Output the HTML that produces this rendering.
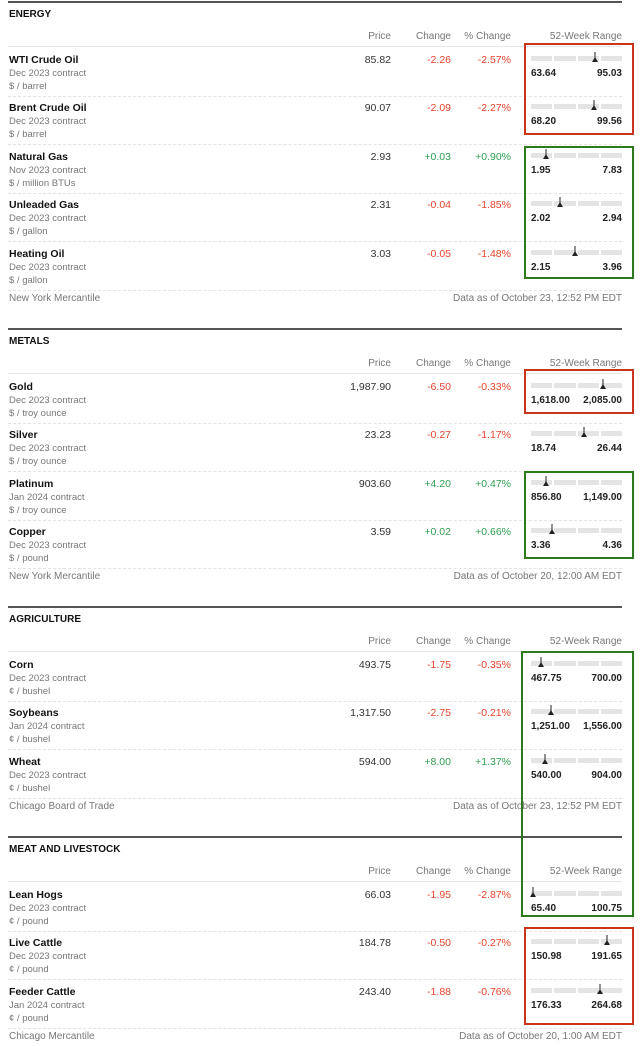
<!DOCTYPE html>
<html><head><meta charset="utf-8"><style>
body{margin:0;background:#fff;width:640px;height:1046px;position:relative;overflow:hidden;font-family:"Liberation Sans",sans-serif;}
.a{position:absolute;white-space:nowrap;line-height:1;}
.t{font-weight:bold;font-size:10px;color:#111;}
.h{font-size:10px;color:#777;}
.n{font-weight:bold;font-size:10.5px;color:#111;}
.s{font-size:9.5px;color:#777;}
.v{font-size:10.5px;color:#333;}
.r{color:#e8432c}.g{color:#2e9e4f}
.lo{font-weight:bold;font-size:10px;color:#222;}
.ln{position:absolute;left:8px;width:614px;height:0;}
.box{position:absolute;border:2px solid;box-sizing:border-box;}
</style></head><body>
<div id="root"></div>
<script>
const sectionTitles=["ENERGY","METALS","AGRICULTURE","MEAT AND LIVESTOCK"];
const sectionTops=[1,328,606,836];
const footers=[["New York Mercantile","Data as of October 23, 12:52 PM EDT"],["New York Mercantile","Data as of October 20, 12:00 AM EDT"],["Chicago Board of Trade","Data as of October 23, 12:52 PM EDT"],["Chicago Mercantile","Data as of October 20, 1:00 AM EDT"]];
const names=[["WTI Crude Oil","Brent Crude Oil","Natural Gas","Unleaded Gas","Heating Oil"],["Gold","Silver","Platinum","Copper"],["Corn","Soybeans","Wheat"],["Lean Hogs","Live Cattle","Feeder Cattle"]];
const contracts=[["Dec 2023 contract","Dec 2023 contract","Nov 2023 contract","Dec 2023 contract","Dec 2023 contract"],["Dec 2023 contract","Dec 2023 contract","Jan 2024 contract","Dec 2023 contract"],["Dec 2023 contract","Jan 2024 contract","Dec 2023 contract"],["Dec 2023 contract","Dec 2023 contract","Jan 2024 contract"]];
const units=[["$ / barrel","$ / barrel","$ / million BTUs","$ / gallon","$ / gallon"],["$ / troy ounce","$ / troy ounce","$ / troy ounce","$ / pound"],["¢ / bushel","¢ / bushel","¢ / bushel"],["¢ / pound","¢ / pound","¢ / pound"]];
const prices=[[85.82,90.07,2.93,2.31,3.03],[1987.90,23.23,903.60,3.59],[493.75,1317.50,594.00],[66.03,184.78,243.40]];
const changes=[[-2.26,-2.09,0.03,-0.04,-0.05],[-6.50,-0.27,4.20,0.02],[-1.75,-2.75,8.00],[-1.95,-0.50,-1.88]];
const pctChanges=[[-2.57,-2.27,0.90,-1.85,-1.48],[-0.33,-1.17,0.47,0.66],[-0.35,-0.21,1.37],[-2.87,-0.27,-0.76]];
const lows=[[63.64,68.20,1.95,2.02,2.15],[1618.00,18.74,856.80,3.36],[467.75,1251.00,540.00],[65.40,150.98,176.33]];
const highs=[[95.03,99.56,7.83,2.94,3.96],[2085.00,26.44,1149.00,4.36],[700.00,1556.00,904.00],[100.75,191.65,264.68]];
const fmt=v=>v.toLocaleString("en-US",{minimumFractionDigits:2,maximumFractionDigits:2});
const root=document.getElementById('root');
function el(cls,txt,x,y,align){const d=document.createElement('div');d.className='a '+cls;d.textContent=txt;d.style.top=(y-4)+'px';if(align==='r'){d.style.right=(640-x)+'px';}else d.style.left=x+'px';root.appendChild(d);return d;}
function line(y,style){const d=document.createElement('div');d.className='ln';d.style.top=y+'px';d.style.borderTop=style;root.appendChild(d);return d;}
const barL=531,barW=91;
const xScale=(v,lo,hi)=>barL+(v-lo)/(hi-lo)*barW;
sectionTops.forEach((S,si)=>{
  let d=line(S,'2px solid #555');
  
  
  d=el('t',sectionTitles[si],9,S+13);
  
  
  [["Price",391],["Change",451],["% Change",511],["52-Week Range",622]].forEach(h=>{
    const e=el('h',h[0],h[1],S+35,'r');
    
    
  });
  line(S+45,'1px solid #e6e6e6');
  const n=names[si].length;
  for(let i=0;i<n;i++){
    const y=S+57.5+i*48.5;
    let e=el('n',names[si][i],9,y);
    
    
    e=el('s',contracts[si][i],9,y+14);
    
    
    e=el('s',units[si][i],9,y+27);
    
    
    e=el('v',fmt(prices[si][i]),391,y,'r');
    
    
    const c=changes[si][i];
    e=el('v '+(c<0?'r':'g'),(c<0?'':'+')+fmt(c),451,y,'r');
    
    
    const p=pctChanges[si][i];
    e=el('v '+(p<0?'r':'g'),(p<0?'':'+')+fmt(p)+'%',511,y,'r');
    
    
    const segW=(barW-6)/4;
    for(let k=0;k<4;k++){
      const b=document.createElement('div');
      b.style.cssText=`position:absolute;left:${barL+k*(segW+2)}px;top:${y-3}px;width:${segW}px;height:5px;background:#e4e4e4`;
      
      
      root.appendChild(b);
    }
    const mx=xScale(prices[si][i],lows[si][i],highs[si][i]);
    const m=document.createElementNS('http://www.w3.org/2000/svg','svg');
    m.setAttribute('width','8');m.setAttribute('height','12');
    m.style.cssText=`position:absolute;left:${mx-4}px;top:${y-7}px`;
    m.innerHTML='<line x1="4" y1="0" x2="4" y2="9" stroke="#222" stroke-width="1"/><polygon points="1,10 7,10 4,5" fill="#222"/>';
    
    
    root.appendChild(m);
    e=el('lo',fmt(lows[si][i]),barL,y+14);
    
    
    e=el('lo',fmt(highs[si][i]),622,y+14,'r');
    
    
    line(y+37,'1px dashed #e3e3e3');
  }
  const fy=S+57.5+(n-1)*48.5+45;
  let f=el('s',footers[si][0],9,fy);
  f.style.fontSize='10px';
  
  
  f=el('s',footers[si][1],622,fy,'r');
  f.style.fontSize='10px';
  
  
});
const boxes=[[524,43,110,92,'#c9341a'],[524,146,110,133,'#2d7a1c'],[524,369,110,45,'#c9341a'],[524,471,110,88,'#2d7a1c'],[521,651,113,266,'#2d7a1c'],[524,927,110,98,'#c9341a']];
boxes.forEach(b=>{
  const d=document.createElement('div');d.className='box';
  d.style.cssText+=`left:${b[0]}px;top:${b[1]}px;width:${b[2]}px;height:${b[3]}px;border-color:${b[4]}`;
  
  
  root.appendChild(d);
});
</script>
</body></html>
